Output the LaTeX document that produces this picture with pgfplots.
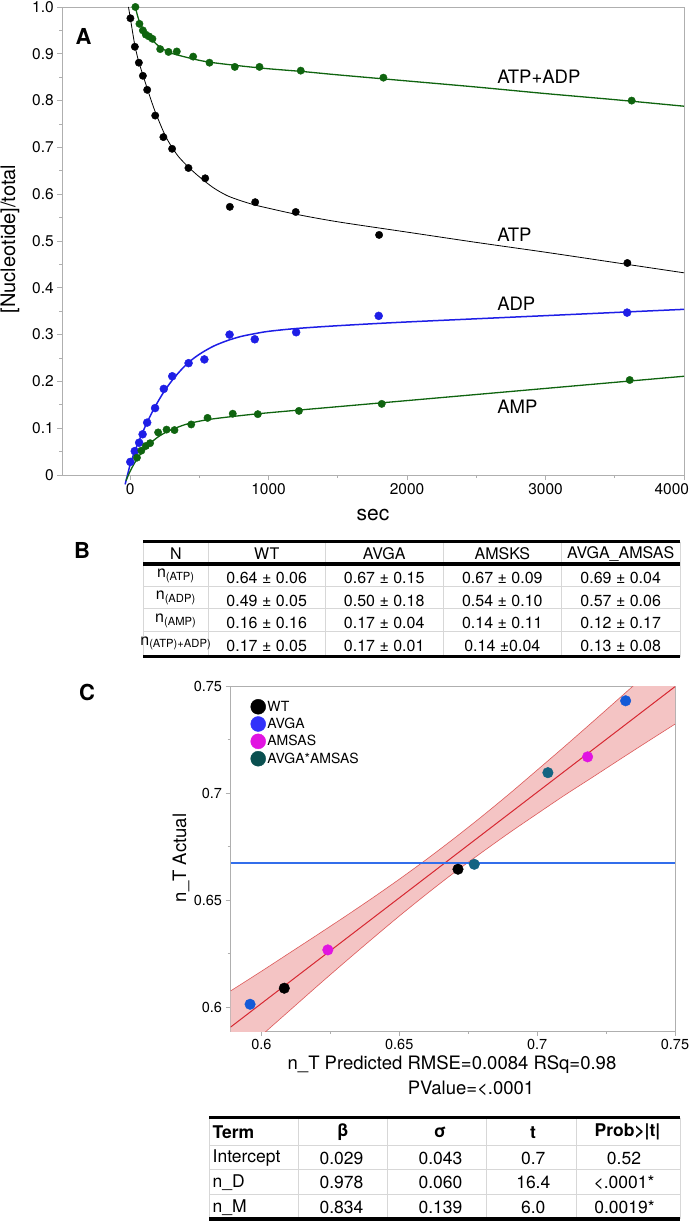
\documentclass[border=0pt]{standalone}
\usepackage{fontspec}
\setmainfont{TeX Gyre Heros}
\usepackage{pgfplots}
\pgfplotsset{compat=1.18}
\definecolor{agreen}{RGB}{15,100,15}
\definecolor{ablue}{RGB}{30,30,230}
\definecolor{axgray}{RGB}{175,175,175}
\definecolor{tgray}{RGB}{215,215,215}
\definecolor{bandfill}{RGB}{244,196,196}
\definecolor{bandedge}{RGB}{220,90,90}
\definecolor{redline}{RGB}{215,40,50}
\definecolor{ptblue}{RGB}{20,90,215}
\definecolor{ptteal}{RGB}{20,100,130}
\definecolor{legblue}{RGB}{50,50,250}
\definecolor{legteal}{RGB}{10,80,80}
\definecolor{pmag}{RGB}{225,20,225}
\newcommand{\fs}[1]{\fontsize{#1}{#1}\selectfont}
\begin{document}
\begin{tikzpicture}
\path[use as bounding box] (0pt,0pt) rectangle (692pt,-1222pt);

% ---------------- Panel A ----------------
\begin{axis}[
  at={(62.3pt,-475pt)}, anchor=south west,
  width=621.7pt, height=468pt, scale only axis,
  xmin=-490, xmax=4000, ymin=0, ymax=1,
  axis line style={draw=axgray, line width=0.8pt},
  tick pos=left, tick align=outside,
  major tick length=5pt, minor tick length=3pt,
  every tick/.style={draw=axgray, line width=0.8pt},
  xtick={0,1000,2000,3000,4000},
  xticklabels={0,1000,2000,3000,{\makebox[0pt][r]{4000\hspace{-5pt}}}},
  minor xtick={500,1500,2500,3500},
  ytick={0,0.1,0.2,0.3,0.4,0.5,0.6,0.7,0.8,0.9,1.0},
  yticklabels={0,0.1,0.2,0.3,0.4,0.5,0.6,0.7,0.8,0.9,1.0},
  minor ytick={0.05,0.15,0.25,0.35,0.45,0.55,0.65,0.75,0.85,0.95},
  xticklabel style={font=\fs{15.5}},
  yticklabel style={font=\fs{15.5}},
  /pgf/number format/assume math mode=true,
  clip=false,
]
% ATP+ADP
\addplot[agreen, line width=1.3pt, smooth] coordinates {
(38,1.0)(50,0.985)(65,0.970)(80,0.960)(100,0.950)(125,0.940)(150,0.932)(200,0.918)(250,0.908)(300,0.901)(400,0.893)(500,0.886)(600,0.881)(800,0.874)(1000,0.868)(1250,0.862)(1500,0.855)(2000,0.842)(2500,0.829)(3000,0.815)(3500,0.802)(4000,0.788)};
\addplot[only marks, mark=*, mark size=3.7pt, agreen] coordinates {
(38,1.0)(67,0.964)(92,0.950)(113,0.941)(137,0.937)(161,0.932)(217,0.910)(277,0.904)(337,0.905)(455,0.894)(573,0.881)(756,0.872)(934,0.872)(1232,0.864)(1829,0.849)(3622,0.800)};
% ATP
\addplot[black, line width=0.8pt, smooth] coordinates {
(-12,1.0)(2,0.975)(20,0.942)(34,0.918)(50,0.897)(63,0.882)(80,0.866)(92,0.855)(123,0.826)(150,0.802)(181,0.776)(210,0.755)(240,0.734)(270,0.716)(303,0.700)(350,0.680)(421,0.658)(500,0.637)(600,0.614)(700,0.597)(800,0.586)(900,0.577)(1000,0.570)(1200,0.557)(1500,0.541)(2000,0.519)(2500,0.497)(3000,0.476)(3500,0.454)(4000,0.432)};
\addplot[only marks, mark=*, mark size=3.7pt, black] coordinates {
(2,0.976)(34,0.915)(63,0.881)(92,0.853)(123,0.823)(181,0.768)(240,0.722)(303,0.697)(421,0.656)(542,0.634)(720,0.573)(903,0.583)(1196,0.562)(1798,0.513)(3591,0.453)};
% ADP
\addplot[ablue, line width=1.5pt, smooth] coordinates {
(-36,-0.02)(0,0.022)(30,0.048)(60,0.070)(90,0.091)(120,0.111)(150,0.129)(180,0.146)(240,0.176)(300,0.201)(360,0.222)(420,0.240)(500,0.258)(600,0.275)(700,0.287)(800,0.296)(900,0.302)(1000,0.307)(1200,0.313)(1500,0.319)(2000,0.327)(3000,0.3405)(4000,0.354)};
\addplot[only marks, mark=*, mark size=4pt, ablue] coordinates {
(1,0.028)(33,0.051)(65,0.069)(90,0.087)(123,0.112)(180,0.143)(243,0.184)(304,0.211)(422,0.239)(536,0.247)(718,0.300)(900,0.290)(1199,0.305)(1795,0.340)(3589,0.347)};
% AMP
\addplot[agreen, line width=1.3pt, smooth] coordinates {
(-30,-0.012)(0,0.008)(25,0.022)(50,0.034)(75,0.045)(100,0.054)(150,0.069)(200,0.081)(250,0.090)(300,0.097)(400,0.108)(500,0.115)(600,0.120)(800,0.127)(1000,0.133)(1500,0.146)(2000,0.159)(3000,0.185)(4000,0.211)};
\addplot[only marks, mark=*, mark size=3.7pt, agreen] coordinates {
(49,0.037)(81,0.052)(113,0.062)(144,0.068)(202,0.091)(263,0.097)(320,0.096)(441,0.108)(559,0.122)(741,0.131)(922,0.130)(1219,0.137)(1817,0.152)(3608,0.203)};
\node[anchor=west, inner sep=0pt, font=\fs{18.5}] at (axis cs:2650,0.850) {ATP+ADP};
\node[anchor=west, inner sep=0pt, font=\fs{18.5}] at (axis cs:2650,0.513) {ATP};
\node[anchor=west, inner sep=0pt, font=\fs{18.5}] at (axis cs:2650,0.365) {ADP};
\node[anchor=west, inner sep=0pt, font=\fs{18.5}] at (axis cs:2650,0.145) {AMP};
\end{axis}
\node[font=\bfseries\fs{22}] at (83.5pt,-36.5pt) {A};
\node[font=\fs{21}] at (373pt,-515pt) {sec};
\node[rotate=90, font=\fs{20}] at (10pt,-239pt) {[Nucleotide]/total};

% ---------------- Panel B ----------------
\node[font=\bfseries\fs{22}] at (82pt,-550pt) {B};
\foreach \x in {143.3,208.3,325,443.3,561.3,680}
  \draw[tgray, line width=0.8pt] (\x pt,-541.7pt) -- (\x pt,-656.7pt);
\foreach \y in {586,608.3,631.7}
  \draw[tgray, line width=0.8pt] (143.3pt,-\y pt) -- (680pt,-\y pt);
\draw[black, line width=3.2pt] (143.3pt,-541.7pt) -- (680pt,-541.7pt);
\draw[black, line width=3.2pt] (143.3pt,-564pt) -- (680pt,-564pt);
\draw[black, line width=3.2pt] (143.3pt,-656.7pt) -- (680pt,-656.7pt);
\begin{scope}[every node/.style={font=\fs{16}, inner sep=0pt}]
\node at (175.8pt,-554pt) {N};
\node at (266.7pt,-554pt) {WT};
\node at (384.2pt,-554pt) {AVGA};
\node at (502.3pt,-554pt) {AMSKS};
\node at (620.7pt,-554pt) {AVGA\_AMSAS};
\node at (175.8pt,-576pt) {n\textsubscript{(ATP)}};
\node at (175.8pt,-598pt) {n\textsubscript{(ADP)}};
\node at (175.8pt,-621pt) {n\textsubscript{(AMP)}};
\node at (175.8pt,-643.5pt) {n\textsubscript{(ATP)+ADP)}};
\node at (266.7pt,-578.3pt) {0.64 ± 0.06};
\node at (384.2pt,-578.3pt) {0.67 ± 0.15};
\node at (502.3pt,-578.3pt) {0.67 ± 0.09};
\node at (620.7pt,-578.3pt) {0.69 ± 0.04};
\node at (266.7pt,-600.5pt) {0.49 ± 0.05};
\node at (384.2pt,-600.5pt) {0.50 ± 0.18};
\node at (502.3pt,-600.5pt) {0.54 ± 0.10};
\node at (620.7pt,-600.5pt) {0.57 ± 0.06};
\node at (266.7pt,-623.3pt) {0.16 ± 0.16};
\node at (384.2pt,-623.3pt) {0.17 ± 0.04};
\node at (502.3pt,-623.3pt) {0.14 ± 0.11};
\node at (620.7pt,-623.3pt) {0.12 ± 0.17};
\node at (266.7pt,-646pt) {0.17 ± 0.05};
\node at (384.2pt,-646pt) {0.17 ± 0.01};
\node at (502.3pt,-646pt) {0.14 ±0.04};
\node at (620.7pt,-646pt) {0.13 ± 0.08};
\end{scope}

% ---------------- Panel C ----------------
\node[font=\bfseries\fs{22}] at (87pt,-692pt) {C};
\begin{axis}[
  at={(230.5pt,-1031pt)}, anchor=south west,
  width=444.5pt, height=345pt, scale only axis,
  xmin=0.5888, xmax=0.75, ymin=0.5888, ymax=0.75,
  axis line style={draw=axgray, line width=0.8pt},
  tick pos=left, tick align=outside,
  major tick length=5pt, minor tick length=3pt,
  every tick/.style={draw=axgray, line width=0.8pt},
  xtick={0.6,0.65,0.7,0.75}, xticklabels={0.6,0.65,0.7,0.75},
  ytick={0.6,0.65,0.7,0.75}, yticklabels={0.6,0.65,0.7,0.75},
  minor xtick={0.625,0.675,0.725}, minor ytick={0.625,0.675,0.725},
  xticklabel style={font=\fs{14.5}},
  yticklabel style={font=\fs{14.5}},
  legend image code/.code={\draw[mark repeat=2,mark phase=2,#1] plot coordinates {(0pt,0pt) (7.5pt,0pt) (15pt,0pt)};},
  legend style={at={(0,1)}, anchor=north west, xshift=20pt, yshift=-13pt,
     draw=none, fill=none, font=\fs{14}, inner sep=0pt, row sep=2pt,
     nodes={inner sep=1.7pt}},
  legend cell align=left,
]
\addplot[draw=none, fill=bandfill, forget plot] coordinates {
(0.5888,0.6075)(0.60,0.6167)(0.61,0.6251)(0.62,0.6335)(0.63,0.6420)(0.64,0.6507)(0.65,0.6597)(0.66,0.6691)(0.67,0.6789)(0.68,0.6891)(0.69,0.6997)(0.70,0.7107)(0.71,0.7218)(0.72,0.7331)(0.73,0.7445)(0.74,0.7560)(0.75,0.7676)
(0.75,0.7322)(0.74,0.7240)(0.73,0.7157)(0.72,0.7073)(0.71,0.6990)(0.70,0.6903)(0.69,0.6815)(0.68,0.6723)(0.67,0.6629)(0.66,0.6529)(0.65,0.6425)(0.64,0.6317)(0.63,0.6207)(0.62,0.6095)(0.61,0.5981)(0.60,0.5867)(0.5888,0.5737)} -- cycle;
\addplot[bandedge, line width=0.6pt, smooth, forget plot] coordinates {
(0.5888,0.6075)(0.60,0.6167)(0.61,0.6251)(0.62,0.6335)(0.63,0.6420)(0.64,0.6507)(0.65,0.6597)(0.66,0.6691)(0.67,0.6789)(0.68,0.6891)(0.69,0.6997)(0.70,0.7107)(0.71,0.7218)(0.72,0.7331)(0.73,0.7445)(0.74,0.7560)(0.75,0.7676)};
\addplot[bandedge, line width=0.6pt, smooth, forget plot] coordinates {
(0.75,0.7322)(0.74,0.7240)(0.73,0.7157)(0.72,0.7073)(0.71,0.6990)(0.70,0.6903)(0.69,0.6815)(0.68,0.6723)(0.67,0.6629)(0.66,0.6529)(0.65,0.6425)(0.64,0.6317)(0.63,0.6207)(0.62,0.6095)(0.61,0.5981)(0.60,0.5867)(0.5888,0.5737)};
\addplot[redline, line width=1pt, forget plot] coordinates {(0.5888,0.5906)(0.75,0.7497)};
\addplot[color={rgb,255:red,50;green,110;blue,235}, line width=1.5pt, forget plot] coordinates {(0.5888,0.6672)(0.75,0.6672)};
\addplot[only marks, mark=*, mark size=5.3pt, black, forget plot] coordinates {(0.6713,0.6644)(0.6083,0.6088)};
\addplot[only marks, mark=*, mark size=5.3pt, ptblue, forget plot] coordinates {(0.7321,0.7431)(0.5959,0.6013)};
\addplot[only marks, mark=*, mark size=5.3pt, pmag, forget plot] coordinates {(0.7183,0.7169)(0.6241,0.6267)};
\addplot[only marks, mark=*, mark size=5.3pt, ptteal, forget plot] coordinates {(0.7039,0.7095)(0.6772,0.6667)};
\addlegendimage{only marks, mark=*, mark size=7.5pt, black}
\addlegendentry{WT}
\addlegendimage{only marks, mark=*, mark size=7.5pt, legblue}
\addlegendentry{AVGA}
\addlegendimage{only marks, mark=*, mark size=7.5pt, pmag}
\addlegendentry{AMSAS}
\addlegendimage{only marks, mark=*, mark size=7.5pt, legteal}
\addlegendentry{AVGA*AMSAS}
\end{axis}
\node[rotate=90, font=\fs{18.5}] at (181pt,-858pt) {n\_T Actual};
\node[font=\fs{18.5}] at (452pt,-1065pt) {n\_T Predicted RMSE=0.0084 RSq=0.98};
\node[font=\fs{18.5}] at (471pt,-1088pt) {PValue=<.0001};

% ---------------- Bottom table ----------------
\foreach \x in {209.3,298.3,387.3,486.7,576.7,680}
  \draw[tgray, line width=0.8pt] (\x pt,-1117.7pt) -- (\x pt,-1219pt);
\foreach \y in {1145,1169,1194.3}
  \draw[tgray, line width=0.8pt] (209.3pt,-\y pt) -- (680pt,-\y pt);
\draw[black, line width=3.2pt] (209.3pt,-1117.7pt) -- (680pt,-1117.7pt);
\draw[black, line width=3.2pt] (209.3pt,-1219pt) -- (680pt,-1219pt);
\begin{scope}[every node/.style={font=\fs{17.5}, inner sep=0pt}]
\node[anchor=west, font=\bfseries\fs{17.5}] at (212.5pt,-1132.3pt) {Term};
\node[font=\bfseries\fs{17.5}] at (342.8pt,-1132.3pt) {β};
\node[font=\bfseries\fs{17.5}] at (440pt,-1132.3pt) {σ};
\node[font=\bfseries\fs{17.5}] at (533pt,-1132.3pt) {t};
\node[font=\bfseries\fs{17.5}] at (627.5pt,-1132.3pt) {Prob>|t|};
\node[anchor=west] at (212.5pt,-1158.3pt) {Intercept};
\node[anchor=west] at (212.5pt,-1182.7pt) {n\_D};
\node[anchor=west] at (212.5pt,-1207.3pt) {n\_M};
\node at (341.5pt,-1158.3pt) {0.029};
\node at (341.5pt,-1182.7pt) {0.978};
\node at (341.5pt,-1207.3pt) {0.834};
\node at (440.5pt,-1158.3pt) {0.043};
\node at (440.5pt,-1182.7pt) {0.060};
\node at (440.5pt,-1207.3pt) {0.139};
\node at (533.3pt,-1158.3pt) {0.7};
\node at (533.3pt,-1182.7pt) {16.4};
\node at (533.3pt,-1207.3pt) {6.0};
\node at (624pt,-1158.3pt) {0.52};
\node at (624pt,-1182.7pt) {<.0001*};
\node at (624.5pt,-1207.3pt) {0.0019*};
\end{scope}
\end{tikzpicture}
\end{document}
